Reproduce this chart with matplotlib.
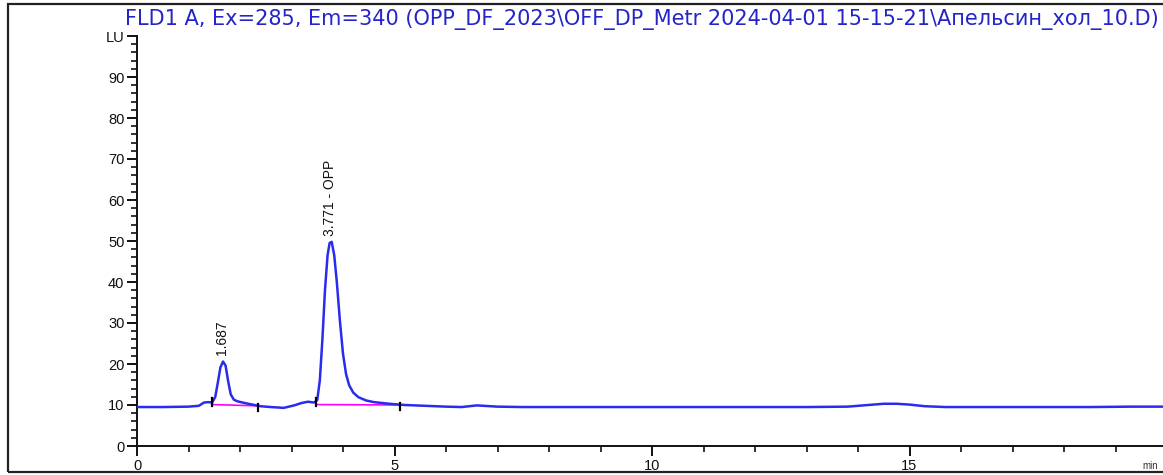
import numpy as np
import matplotlib.pyplot as plt
from matplotlib.patches import Rectangle
from matplotlib.ticker import MultipleLocator

plt.rcParams['font.family'] = ['Liberation Sans', 'DejaVu Sans']

# chromatogram trace (time in min, signal in LU)
time_min = [0.0, 0.5, 1.0, 1.2, 1.3, 1.38, 1.46, 1.52, 1.57, 1.62, 1.67,
            1.72, 1.77, 1.82, 1.88, 1.95, 2.05, 2.2, 2.4, 2.6, 2.85, 3.05,
            3.2, 3.32, 3.44, 3.5, 3.55, 3.6, 3.65, 3.7, 3.74, 3.78, 3.83,
            3.88, 3.94, 4.0, 4.06, 4.12, 4.2, 4.3, 4.45, 4.6, 4.9, 5.2,
            5.6, 6.0, 6.3, 6.6, 7.0, 7.5, 8.0, 9.0, 10.0, 11.0, 12.0, 13.0,
            13.8, 14.2, 14.5, 14.75, 15.0, 15.3, 15.7, 16.5, 17.5, 18.5,
            19.3, 20.0]
signal_lu = [9.5, 9.5, 9.6, 9.8, 10.6, 10.7, 10.6, 12.0, 15.5, 19.2, 20.6,
             19.6, 15.8, 12.6, 11.3, 10.9, 10.6, 10.2, 9.7, 9.5, 9.3, 9.9,
             10.5, 10.8, 10.6, 11.2, 16.0, 26.0, 38.0, 46.5, 49.5, 49.8, 46.5,
             40.0, 30.5, 22.5, 17.5, 14.8, 13.0, 11.9, 11.1, 10.7, 10.3, 10.0,
             9.8, 9.6, 9.5, 9.9, 9.6, 9.5, 9.5, 9.5, 9.5, 9.5, 9.5, 9.5,
             9.6, 10.0, 10.3, 10.3, 10.1, 9.7, 9.5, 9.5, 9.5, 9.5,
             9.6, 9.6]

# integrated peaks
peak_rt = [1.687, 3.771]
peak_height = [20.6, 49.8]
peak_labels = ['1.687', '3.771 - OPP']
peak_start = [1.46, 3.48]
peak_end = [2.35, 5.1]
base_start = [10.1, 10.1]
base_end = [9.8, 10.0]

title = ('FLD1 A, Ex=285, Em=340 (OPP_DF_2023\\OFF_DP_Metr 2024-04-01 '
         '15-15-21\\Апельсин_хол_10.D)')

trace_color = '#2b2bf0'
text_color = '#2424c8'

fig = plt.figure(figsize=(11.63, 4.75), dpi=100)
ax = fig.add_axes([137 / 1163, 29 / 475, 1 - 137 / 1163, 410 / 475])

# outer frame like the printed report
fig.patches.append(Rectangle((8 / 1163, 3 / 475), 1.2, 468 / 475,
                             transform=fig.transFigure, fill=False,
                             edgecolor='#222222', linewidth=1.6))

ax.plot(time_min, signal_lu, color=trace_color, lw=1.8, zorder=3)

for s, e, ys, ye in zip(peak_start, peak_end, base_start, base_end):
    ax.plot([s, e], [ys, ye], color='#ff00ff', lw=1.2, zorder=2)
    ax.plot([s, s], [ys - 0.4, ys + 1.6], color='black', lw=1.6, zorder=4)
    ax.plot([e, e], [ye - 1.2, ye + 0.4], color='black', lw=1.6, zorder=4)

for rt, h, lab in zip(peak_rt, peak_height, peak_labels):
    ax.text(rt - 0.03, h + 1.5, lab, rotation=90, ha='center', va='bottom',
            fontsize=10, color='#111111')

ax.set_xlim(0, (1163 - 137) / 51.5)
ax.set_ylim(0, 100)

ax.xaxis.set_major_locator(MultipleLocator(5))
ax.xaxis.set_minor_locator(MultipleLocator(1))
ax.yaxis.set_major_locator(MultipleLocator(10))
ax.yaxis.set_minor_locator(MultipleLocator(2))
ax.set_xticks([0, 5, 10, 15])
ax.set_yticks(np.arange(0, 101, 10))
ax.set_yticklabels([str(v) for v in range(0, 100, 10)] + ['LU'])

ax.tick_params(axis='both', which='major', direction='out', length=7,
               width=1.4, labelsize=10.5, colors='#111111', pad=2)
ax.tick_params(axis='both', which='minor', direction='out', length=4,
               width=1.2, colors='#111111')

for side in ('top', 'right'):
    ax.spines[side].set_visible(False)
for side in ('left', 'bottom'):
    ax.spines[side].set_linewidth(1.4)
    ax.spines[side].set_color('#111111')

fig.text(1150 / 1163, 1 - 466 / 475, 'min', fontsize=7, color='#333333',
         ha='center', va='center')
fig.text(125 / 1163, 1 - 19 / 475, title, fontsize=15, color=text_color,
         ha='left', va='center', family='DejaVu Sans')

fig.savefig('out.png', dpi=100)
